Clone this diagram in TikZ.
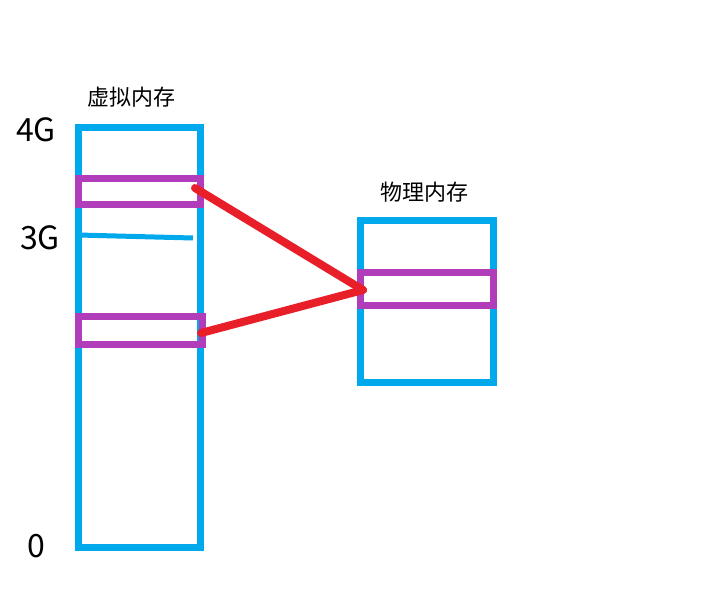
\documentclass[tikz,border=0pt]{standalone}
\usepackage{fontspec}
\setmainfont{Noto Sans CJK SC}
\definecolor{bl}{HTML}{00A8EC}
\definecolor{pu}{HTML}{B13DBA}
\definecolor{rd}{HTML}{E81E28}
\begin{document}
\begin{tikzpicture}[x=1pt,y=-1pt,
  bbox/.style={draw=bl,line width=7pt},
  pbox/.style={draw=pu,line width=7pt},
  link/.style={draw=rd,line width=8pt,line cap=round},
  lab/.style={font=\fontsize{22}{26}\selectfont},
  big/.style={font=\fontsize{32}{36}\selectfont}]
\useasboundingbox (0,0) rectangle (710,599);
\draw[bbox] (78,128) rectangle (200,547);
\draw[bl,line width=5pt] (78,235) -- (193,238);
\draw[pbox] (78,179) rectangle (200,205);
\draw[pbox] (78,316) rectangle (202,344);
\draw[bbox] (360,220) rectangle (493,382);
\draw[pbox] (360,272) rectangle (493,305);
\coordinate (a) at (195,188);
\coordinate (b) at (201,333);
\coordinate (c) at (363,290);
\draw[link] (a) -- (c);
\draw[link] (b) -- (c);
\node[lab] (v) at (131,97) {虚拟内存};
\node[lab] (p) at (424,192) {物理内存};
\node[big] (g4) at (36,130) {4G};
\node[big] (g3) at (40,238) {3G};
\node[big] (z) at (36,546) {0};
\end{tikzpicture}
\end{document}
